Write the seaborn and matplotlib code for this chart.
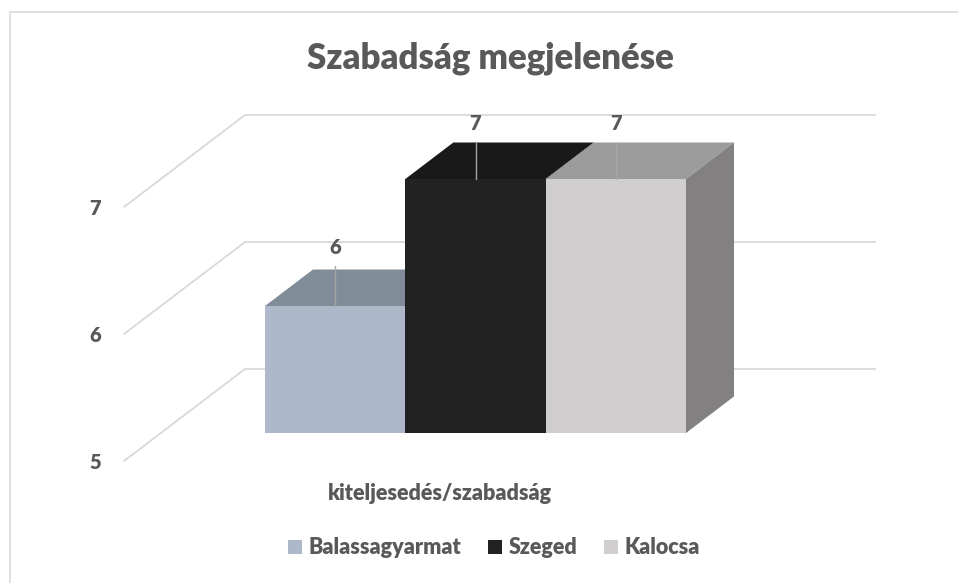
import matplotlib
matplotlib.use("Agg")
import matplotlib.pyplot as plt
import seaborn as sns
import pandas as pd
from matplotlib.lines import Line2D
from matplotlib.patches import Polygon
from matplotlib.transforms import ScaledTranslation

W, H = 958, 583

title = "Szabadság megjelenése"
category = "kiteljesedés/szabadság"
cities = ["Balassagyarmat", "Szeged", "Kalocsa"]
values = [6, 7, 7]
front_colors = ["#ADB9CA", "#222222", "#D0CECE"]
top_colors = ["#818C99", "#191919", "#9C9C9C"]
side_colors = ["#818C99", "#191919", "#828080"]
y_ticks = [5, 6, 7]

sns.set_theme(style="white")
plt.rcParams["font.family"] = ["Lato", "DejaVu Sans"]
text_color = "#595959"
grid_color = "#D9D9D9"
heavy = "heavy"

fig = plt.figure(figsize=(W / 100, H / 100), dpi=100)
# axes cover only the front faces of the bars, the fake depth is drawn around them
ax = fig.add_axes([265 / W, 1 - 433 / H, 421 / W, 254 / H])

df = pd.DataFrame({"kat": [category] * len(cities), "varos": cities, "ertek": values})
sns.barplot(data=df, x="kat", y="ertek", hue="varos", palette=front_colors,
            width=1, saturation=1, linewidth=0, zorder=3, ax=ax)
ax.set_xlim(-0.5, 0.5)
ax.set_ylim(5, 7)
sns.despine(ax=ax, left=True, bottom=True)

# depth in data units
dx_bar = 48 / 421
dy_bar = 36.5 / 127
wall_dy = 64 / 127
front_dy = -28 / 127
wall_x = (245 - 265) / 421 - 0.5
end_x = (875 - 265) / 421 - 0.5
front_x = (124 - 265) / 421 - 0.5

# gridlines on the back wall and side wall
for v in y_ticks:
    ax.plot([front_x, wall_x, end_x], [v + front_dy, v + wall_dy, v + wall_dy],
            color=grid_color, lw=1.3, clip_on=False, zorder=1)

# top and side faces, data labels
bars = [p for p in ax.patches if p.get_width() > 0]
for i, p in enumerate(bars):
    x0 = p.get_x()
    x1 = x0 + p.get_width()
    v = values[i]
    ax.add_patch(Polygon([(x0, v), (x0 + dx_bar, v + dy_bar), (x1 + dx_bar, v + dy_bar), (x1, v)],
                         closed=True, fc=top_colors[i], ec="none", clip_on=False, zorder=2))
    ax.add_patch(Polygon([(x1, 5), (x1 + dx_bar, 5 + dy_bar), (x1 + dx_bar, v + dy_bar), (x1, v)],
                         closed=True, fc=side_colors[i], ec="none", clip_on=False, zorder=2))
    xc = (x0 + x1) / 2
    ax.plot([xc, xc], [v, v + 40 / 127 if i == 0 else v + 36 / 127], color="#A6A6A6", lw=1,
            clip_on=False, zorder=4)
    ax.text(xc, v + (59 if i == 0 else 55) / 127, str(v), ha="center", va="center",
            fontsize=14.5, fontweight=heavy, color=text_color, zorder=5)

# y axis labels sit on the front edge of the floor
ax.set_yticks(y_ticks)
ax.set_yticklabels([str(v) for v in y_ticks], fontsize=14.5, fontweight=heavy, color=text_color)
ax.tick_params(axis="y", length=0, pad=161 * 0.72 + 2)
shift = ScaledTranslation(0, -0.28, fig.dpi_scale_trans)
for lab in ax.get_yticklabels():
    lab.set_transform(lab.get_transform() + shift)

ax.set_xticks([])
ax.set_xlabel(category, fontsize=15.5, fontweight=heavy, color=text_color)
ax.xaxis.set_label_coords((440 - 265) / 421, (433 - 483) / 254)
ax.set_ylabel("")

handles, labels = ax.get_legend_handles_labels()
ax.legend(handles, labels, loc="center", bbox_to_anchor=(494 / W, 1 - 548 / H),
          bbox_transform=fig.transFigure, ncol=3, frameon=False, handlelength=0.65,
          handleheight=0.65, handletextpad=0.3, columnspacing=1.25,
          prop={"size": 15.5, "weight": heavy}, labelcolor=text_color)

fig.text(490 / W, 1 - 58 / H, title, ha="center", va="center", fontsize=25,
         fontweight=heavy, color=text_color)

# chart frame, runs off the right and bottom of the picture
frame = "#D9D9D9"
fig.add_artist(Line2D([10 / W, 10 / W, 1], [0, 1 - 12 / H, 1 - 12 / H], color=frame, lw=1.2))

fig.savefig("out.png", dpi=100)
